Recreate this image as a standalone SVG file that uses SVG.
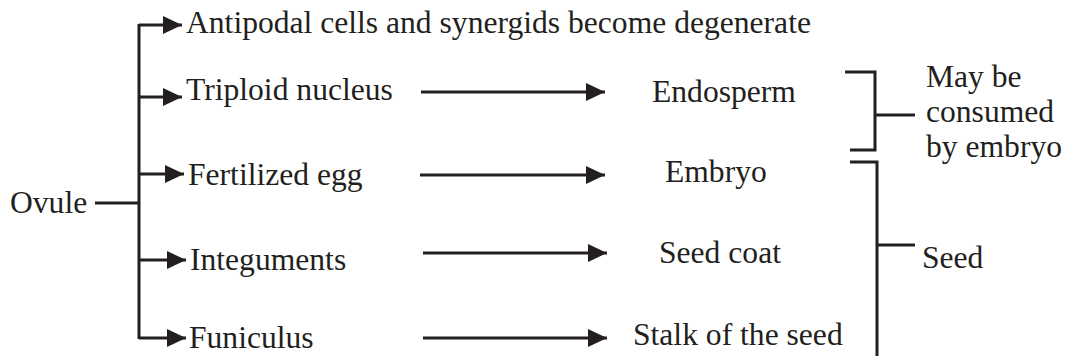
<svg xmlns="http://www.w3.org/2000/svg" width="1066" height="356" viewBox="0 0 1066 356">
<defs>
<style>
.t{font-family:'Liberation Serif','DejaVu Serif',serif;font-size:31.6px;fill:#231f20}
.ln{stroke:#231f20;stroke-width:3;fill:none}
</style>
<marker id="ah" markerWidth="19" markerHeight="18" refX="19" refY="9" orient="auto" markerUnits="userSpaceOnUse">
<path d="M0,0 L19,9 L0,18 Z" fill="#231f20"/>
</marker>
</defs>
<rect width="1066" height="356" fill="#fff"/>
<g id="connectors">
<path class="ln" d="M95,203 H140"/>
<path class="ln" d="M139,24 V339"/>
<path class="ln" d="M139,25 H182" marker-end="url(#ah)"/>
<path class="ln" d="M139,97 H182" marker-end="url(#ah)"/>
<path class="ln" d="M139,174 H184" marker-end="url(#ah)"/>
<path class="ln" d="M139,260 H186" marker-end="url(#ah)"/>
<path class="ln" d="M139,338 H186" marker-end="url(#ah)"/>
<path class="ln" d="M421,92 H605" marker-end="url(#ah)"/>
<path class="ln" d="M420,175 H605" marker-end="url(#ah)"/>
<path class="ln" d="M423,253 H607" marker-end="url(#ah)"/>
<path class="ln" d="M423,338 H607" marker-end="url(#ah)"/>
<path class="ln" d="M845,72 H875 V150 H850"/>
<path class="ln" d="M875,115 H915"/>
<path class="ln" d="M850,162 H877 V356"/>
<path class="ln" d="M877,245 H915"/>
</g>
<g class="t" font-family="Liberation Serif, DejaVu Serif, serif">
<g id="ovule"><text x="10" y="213">Ovule</text></g>
<g id="antipodal"><text x="186" y="33">Antipodal cells and synergids become degenerate</text></g>
<g id="triploid"><text x="186" y="100">Triploid nucleus</text></g>
<g id="fertilized"><text x="188" y="185">Fertilized egg</text></g>
<g id="integuments"><text x="190" y="270">Integuments</text></g>
<g id="funiculus"><text x="189" y="348">Funiculus</text></g>
<g id="endosperm"><text x="652" y="102">Endosperm</text></g>
<g id="embryo"><text x="665" y="182">Embryo</text></g>
<g id="seedcoat"><text x="659" y="263">Seed coat</text></g>
<g id="stalk"><text x="633" y="345">Stalk of the seed</text></g>
<g id="consumed"><text x="926" y="87">May be</text><text x="926" y="122">consumed</text><text x="926" y="157">by embryo</text></g>
<g id="seed"><text x="922" y="268">Seed</text></g>
</g>
</svg>
